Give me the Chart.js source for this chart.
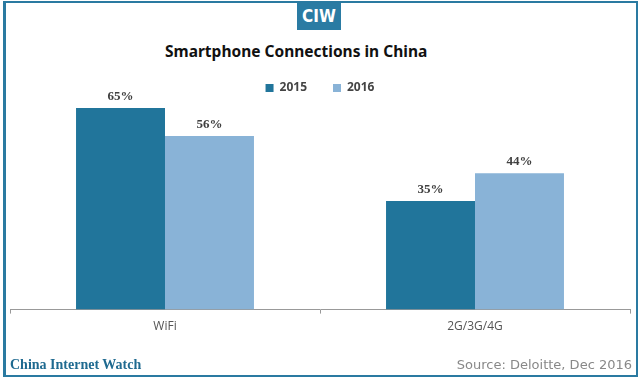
<!DOCTYPE html>
<html>
<head>
<meta charset="utf-8">
<script src="https://cdn.jsdelivr.net/npm/chart.js@4"></script>
<style>
  body { margin: 0; background: #fff; }
  #wrap { position: relative; width: 638px; height: 381px; overflow: hidden; }
  #frame { position: absolute; left: 3px; top: 1px; width: 630px; height: 372px;
           border: 2px solid #2a7aa1; border-left-width: 3px; }
  #logo { position: absolute; left: 297px; top: 3px; width: 44px; height: 27px; background: #2a7ba3;
          color: #fff; font: bold 17px "Liberation Sans Narrow", "DejaVu Sans Condensed", sans-serif;
          text-align: center; line-height: 27px; }
  #title { position: absolute; left: 165px; top: 40px; color: #111;
           font: bold 15.5px "Noto Sans", sans-serif; }
  #brand { position: absolute; left: 10px; top: 357px; color: #1f6a90;
           font: bold 14px "Liberation Serif", serif; }
  #source { position: absolute; right: 6px; top: 357px; color: #888;
            font: 13px "DejaVu Sans", sans-serif; }
  canvas { position: absolute; left: 0; top: 0; }
</style>
</head>
<body>
<div id="wrap">
  <div id="frame"></div>
  <div id="logo">CIW</div>
  <div id="title">Smartphone Connections in China</div>
  <canvas id="connChart" width="638" height="381"></canvas>
  <div id="brand">China Internet Watch</div>
  <div id="source">Source: Deloitte, Dec 2016</div>
</div>
<script>
const categories = ["WiFi", "2G/3G/4G"];
const years = ["2015", "2016"];
const values2015 = [65, 35];
const values2016 = [56, 44];

// labels above bars
const barLabels = {
  id: "barLabels",
  afterDatasetsDraw(chart) {
    const ctx = chart.ctx;
    ctx.save();
    ctx.fillStyle = "#404040";
    ctx.textAlign = "center";
    ctx.textBaseline = "bottom";
    ctx.font = "bold 13px 'Liberation Serif', serif";
    chart.data.datasets.forEach((ds, i) => {
      chart.getDatasetMeta(i).data.forEach((bar, j) => {
        ctx.fillText(ds.data[j] + "%", bar.x, bar.y - 5);
      });
    });
    ctx.restore();
  }
};

const ctx = document.getElementById("connChart").getContext("2d");
const myChart = new Chart(ctx, {
  type: "bar",
  data: {
    labels: categories,
    datasets: [
      { label: years[0], data: values2015, backgroundColor: "#21759b" },
      { label: years[1], data: values2016, backgroundColor: "#89b3d7" },
    ],
  },
  options: {
    responsive: false,
    animation: false,
    layout: { padding: { left: 10, right: 8, top: 56, bottom: 41 } },
    datasets: { bar: { categoryPercentage: 0.574, barPercentage: 1 } },
    scales: {
      x: {
        grid: { display: true, drawOnChartArea: false, tickLength: 4, color: "#999" },
        border: { color: "#999" },
        ticks: { color: "#555", padding: 6, font: { size: 12, family: "'Open Sans', sans-serif" } },
      },
      y: { display: false, min: 0, max: 66.3 },
    },
    plugins: {
      legend: {
        labels: {
          boxWidth: 8, boxHeight: 8, padding: 26, color: "#444",
          font: { size: 12, weight: "bold", family: "'Noto Sans', sans-serif" },
        },
      },
      tooltip: { enabled: false },
    },
  },
  plugins: [barLabels],
});
</script>
</body>
</html>
